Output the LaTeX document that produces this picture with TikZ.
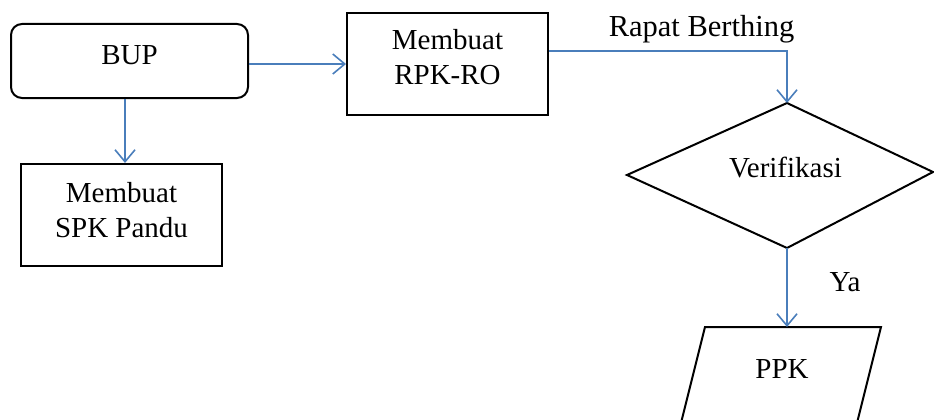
\documentclass[tikz,border=0pt]{standalone}
\usepackage{fontspec}
\setmainfont{Liberation Serif}
\usetikzlibrary{arrows.meta}
\definecolor{flowblue}{RGB}{74,126,187}
\tikzset{
  box/.style={draw=black, line width=2pt, rectangle, inner sep=0pt},
  shapeline/.style={draw=black, line width=2pt, line join=miter},
  lbl/.style={inner sep=0pt, anchor=base, font=\fontsize{29}{35}\selectfont},
  flow/.style={draw=flowblue, line width=1.6pt,
    -{Straight Barb[length=12pt, width=20pt]}},
}
\begin{document}
\begin{tikzpicture}[x=1pt, y=-1pt]
  \useasboundingbox (0,0) rectangle (934,420);
  \clip (0,0) rectangle (934,420);

  % process boxes
  \node[box, rounded corners=11pt, minimum width=237pt, minimum height=74pt]
    (bup) at (129.5,61) {};
  \node[box, minimum width=201pt, minimum height=102pt] (rpk) at (447.5,64) {};
  \node[box, minimum width=201pt, minimum height=102pt] (spk) at (121.5,215) {};

  % decision diamond
  \coordinate (vtop) at (787,103);
  \coordinate (vleft) at (627,175);
  \coordinate (vright) at (933,172);
  \coordinate (vbot) at (787,248);
  \draw[shapeline] (vtop) -- (vright) -- (vbot) -- (vleft) -- cycle;

  % data parallelogram (runs past the lower edge)
  \coordinate (ptl) at (705,327);
  \coordinate (ptr) at (881,327);
  \coordinate (pbl) at (675,447);
  \coordinate (pbr) at (851,447);
  \coordinate (ptop) at (787,327);
  \draw[shapeline] (pbl) -- (ptl) -- (ptr) -- (pbr);

  % labels
  \node[lbl] (tbup) at (129.5,65) {BUP};
  \node[lbl] (trpk) at (447.5,50) {\begin{tabular}[t]{@{}c@{}}Membuat\\RPK-RO\end{tabular}};
  \node[lbl] (tspk) at (121.5,202) {\begin{tabular}[t]{@{}c@{}}Membuat\\SPK Pandu\end{tabular}};
  \node[lbl] (tver) at (785.5,177) {Verifikasi};
  \node[lbl] (tppk) at (782,378) {PPK};
  \node[lbl] (tya) at (845,291) {Ya};
  \node[lbl, font=\fontsize{30.5}{35}\selectfont] (trapat) at (701.5,37) {Rapat Berthing};

  % connectors
  \draw[flow] (bup.east |- rpk.west) -- (rpk.west);
  \draw[flow] ([xshift=-4.5pt]bup.south) -- ([xshift=-4.5pt]bup.south |- spk.north);
  \draw[flow] ([yshift=13pt]rpk.east) -| (vtop);
  \draw[flow] (vbot) -- (ptop);
\end{tikzpicture}
\end{document}
